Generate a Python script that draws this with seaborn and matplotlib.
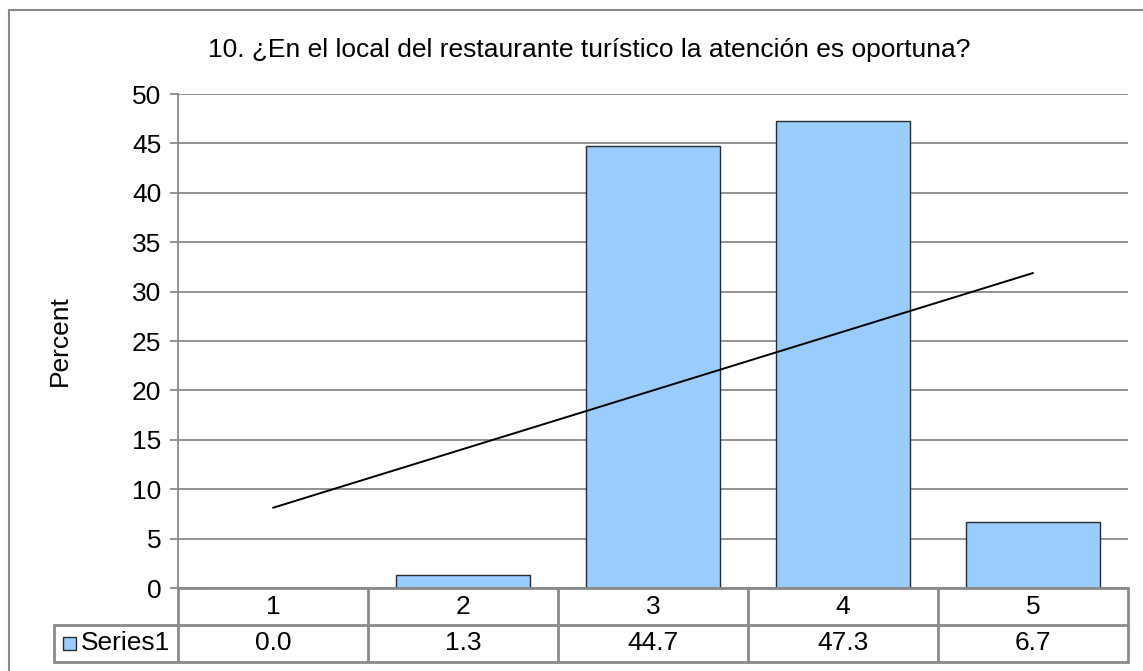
import numpy as np
import pandas as pd
import matplotlib
matplotlib.use("Agg")
import matplotlib.pyplot as plt
import seaborn as sns
from matplotlib.lines import Line2D
from matplotlib.patches import Rectangle

# Datos
categorias = ['1', '2', '3', '4', '5']
porcentajes = [0.0, 1.3, 44.7, 47.3, 6.7]
serie = 'Series1'
titulo = '10. ¿En el local del restaurante turístico la atención es oportuna?'

df = pd.DataFrame({'cat': categorias, 'pct': porcentajes})

sns.set_style('white')
plt.rcParams['font.family'] = ['Liberation Sans', 'DejaVu Sans']
plt.rcParams['text.color'] = 'black'
plt.rcParams['axes.labelcolor'] = 'black'

W, H = 1143, 671
fig = plt.figure(figsize=(W / 100, H / 100), dpi=100)

def px(x0, y0, x1, y1):
    # caja en pixeles (y desde arriba) -> coords de figura
    return [x0 / W, 1 - y1 / H, (x1 - x0) / W, (y1 - y0) / H]

gris = '#8a8a8a'
fs = 19

# Marco exterior
fig.add_artist(Line2D([9 / W, 9 / W], [1 - 10 / H, 0], color=gris, lw=1.5))
fig.add_artist(Line2D([9 / W, 1], [1 - 10 / H, 1 - 10 / H], color=gris, lw=1.5))

# Grafico de barras
ax = fig.add_axes(px(178, 94, 1128, 588))
sns.barplot(data=df, x='cat', y='pct', color='#99CCFF', edgecolor='#2b2b2b',
            linewidth=1, width=0.705, saturation=1, ax=ax, zorder=3)

# Linea de tendencia
xs = np.arange(1, len(porcentajes) + 1)
m, b = np.polyfit(xs, porcentajes, 1)
ax.plot([0, len(xs) - 1], [m * xs[0] + b, m * xs[-1] + b], color='black', lw=1.4, zorder=4)

ax.set_xlim(-0.5, 4.5)
ax.set_ylim(0, 50)
ax.set_yticks(range(0, 51, 5))
ax.yaxis.grid(True, color=gris, lw=1.3)
ax.set_axisbelow(True)
for s in ['top', 'right', 'bottom']:
    ax.spines[s].set_visible(False)
ax.spines['left'].set_color(gris)
ax.spines['left'].set_linewidth(1.3)
ax.tick_params(axis='y', left=True, length=6, width=1.3, color=gris,
               labelcolor='black', labelsize=fs, pad=6)
ax.set_xticks([])
ax.set_xlabel('')
ax.set_ylabel('Percent', fontsize=fs)
ax.yaxis.set_label_coords((72 - 178) / 950, 0.5)

fig.text(589 / W, 1 - 50 / H, titulo, ha='center', va='center', fontsize=fs)

# Tabla de datos
x0 = -0.5 - 124 / 190
tb = fig.add_axes(px(54, 588, 1128, 662))
tb.set_xlim(x0, 4.5)
tb.set_ylim(0, 2)
tb.axis('off')
lk = dict(color=gris, lw=2, clip_on=False)
tb.plot([-0.5, 4.5], [2, 2], **lk)
tb.plot([x0, 4.5], [1, 1], **lk)
tb.plot([x0, 4.5], [0, 0], **lk)
tb.plot([x0, x0], [0, 1], **lk)
for i in range(len(categorias) + 1):
    tb.plot([i - 0.5] * 2, [0, 2], **lk)
for i, (c, v) in enumerate(zip(categorias, porcentajes)):
    tb.text(i, 1.5, c, ha='center', va='center', fontsize=fs)
    tb.text(i, 0.5, f'{v:.1f}', ha='center', va='center', fontsize=fs)
tb.add_patch(Rectangle((x0 + 9 / 190, 0.32), 13 / 190, 0.36, facecolor='#99CCFF',
                       edgecolor='#2b2b2b', lw=1, clip_on=False))
tb.text(x0 + 27 / 190, 0.5, serie, ha='left', va='center', fontsize=fs)

fig.savefig('out.png', dpi=100)
